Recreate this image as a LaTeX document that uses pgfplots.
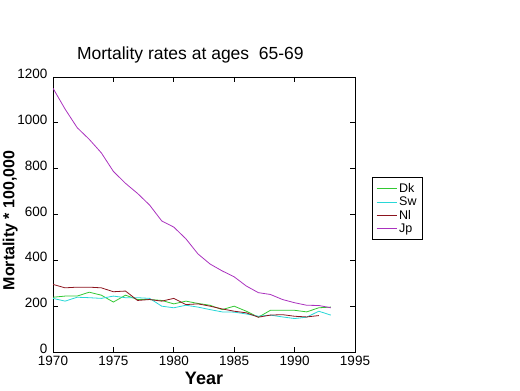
\documentclass[border=0pt]{standalone}
\usepackage{pgfplots}
\pgfplotsset{compat=1.18}
\usepackage{fontspec}
\setmainfont{Liberation Sans}
\definecolor{cDk}{RGB}{50,200,50}
\definecolor{cSw}{RGB}{40,215,215}
\definecolor{cNl}{RGB}{140,20,30}
\definecolor{cJp}{RGB}{170,50,190}
\begin{document}
\begin{tikzpicture}[x=1bp,y=1bp]
\useasboundingbox (0,0) rectangle (520,390);
\begin{axis}[
  at={(53bp,38bp)}, anchor=south west,
  scale only axis, width=302bp, height=275bp,
  xmin=1970, xmax=1995, ymin=0, ymax=1200,
  xtick={1970,1975,...,1995}, ytick={0,200,...,1200},
  tick align=inside, tick pos=both,
  major tick length=5bp,
  x tick label style={/pgf/number format/1000 sep={}},
  y tick label style={/pgf/number format/1000 sep={}},
  /pgf/number format/assume math mode=true,
  tick label style={font=\fontsize{13.5bp}{14bp}\selectfont},
  xticklabel style={yshift=-1bp},
  yticklabel style={xshift=-2bp, yshift=3bp},
  axis line style={line width=0.8bp},
  every tick/.style={black, line width=0.8bp},
  title={Mortality rates at ages\ \ 65-69},
  title style={font=\fontsize{17.5bp}{19bp}\selectfont, at={(0.455,1)}, yshift=4bp},
  xlabel={Year},
  xlabel style={font=\fontsize{18bp}{20bp}\selectfont\bfseries, yshift=1bp},
  ylabel={Mortality * 100,000},
  ylabel style={font=\fontsize{16bp}{18bp}\selectfont\bfseries, yshift=-7bp, xshift=-6bp},
  legend style={at={(1.056,0.636)}, anchor=north west, draw=black, line width=0.6bp,
    font=\fontsize{12.5bp}{13bp}\selectfont, inner xsep=4bp, inner ysep=4bp,
    row sep=-1bp},
  legend cell align=left,
  legend image code/.code={\draw[#1, line width=1bp] (0bp,0bp) -- (20bp,0bp);},
  every axis plot/.append style={line width=0.8bp},
]
\addplot[cDk] coordinates {
(1970,239)(1971,244)(1972,244)(1973,261)(1974,248)(1975,218)(1976,248)(1977,229)
(1978,229)(1979,225)(1980,210)(1981,222)(1982,212)(1983,204)(1984,185)(1985,200)
(1986,178)(1987,152)(1988,182)(1989,182)(1990,182)(1991,175)(1992,193)(1993,196)};
\addlegendentry{Dk}
\addplot[cSw] coordinates {
(1970,234)(1971,222)(1972,239)(1973,237)(1974,234)(1975,244)(1976,237)(1977,237)
(1978,234)(1979,200)(1980,193)(1981,204)(1982,196)(1983,185)(1984,175)(1985,174)
(1986,166)(1987,156)(1988,161)(1989,153)(1990,146)(1991,152)(1992,178)(1993,161)};
\addlegendentry{Sw}
\addplot[cNl] coordinates {
(1970,295)(1971,280)(1972,283)(1973,283)(1974,280)(1975,263)(1976,266)(1977,225)
(1978,229)(1979,222)(1980,234)(1981,207)(1982,210)(1983,200)(1984,188)(1985,178)
(1986,171)(1987,152)(1988,161)(1989,163)(1990,156)(1991,153)(1992,159)};
\addlegendentry{Nl}
\addplot[cJp] coordinates {
(1970,1151)(1971,1060)(1972,979)(1973,928)(1974,869)(1975,788)(1976,736)(1977,692)
(1978,641)(1979,572)(1980,545)(1981,494)(1982,428)(1983,384)(1984,354)(1985,328)
(1986,288)(1987,259)(1988,251)(1989,229)(1990,215)(1991,204)(1992,203)(1993,193)};
\addlegendentry{Jp}
\end{axis}
\end{tikzpicture}
\end{document}
